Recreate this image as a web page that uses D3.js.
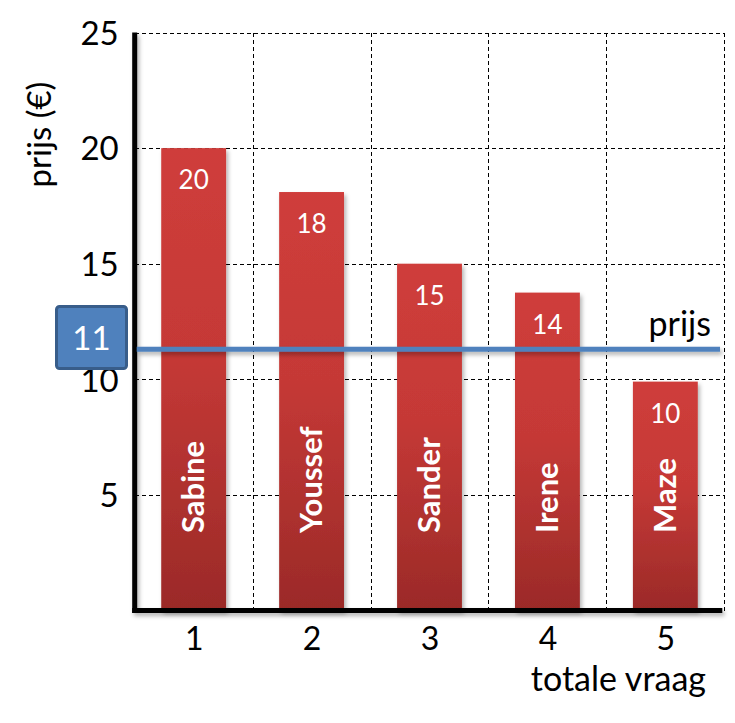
<!DOCTYPE html>
<html><head><meta charset="utf-8">
<script src="https://cdn.jsdelivr.net/npm/d3@7"></script>
<style>
html,body{margin:0;padding:0;background:#fff;}
svg{display:block;font-family:Lato,"Open Sans",sans-serif;}
</style></head>
<body>
<svg id="chart" width="735" height="723"></svg>
<script>
const categories = [1, 2, 3, 4, 5];
const names = ["Sabine", "Youssef", "Sander", "Irene", "Maze"];
const values = [20, 18.1, 15, 13.75, 9.9];
const price = 11.3;
const yTicks = [5, 10, 15, 20, 25];
const xGrid = [1.5, 2.5, 3.5, 4.5, 5.5];
const yTitle = "prijs (€)";
const xTitle = "totale vraag";
const lineLabel = "prijs";

const svg = d3.select("#chart");
const x = d3.scaleLinear().domain([0.5, 5.5]).range([134.7, 724.3]);
const y = d3.scaleLinear().domain([0, 25]).range([610.5, 32.5]);
const fmt = d3.format(".0f");
const band = (x(2) - x(1)) * 0.55;

const defs = svg.append("defs");
const grad = defs.append("linearGradient").attr("id", "barGrad")
  .attr("x1", 0).attr("y1", 0).attr("x2", 0).attr("y2", 1);
grad.append("stop").attr("offset", "0%").attr("stop-color", "#cf3d3b");
grad.append("stop").attr("offset", "45%").attr("stop-color", "#c53936");
grad.append("stop").attr("offset", "100%").attr("stop-color", "#9b2a28");
const sh = defs.append("filter").attr("id", "shadow")
  .attr("filterUnits", "userSpaceOnUse")
  .attr("x", 0).attr("y", 0).attr("width", 735).attr("height", 723);
sh.append("feDropShadow").attr("dx", 2).attr("dy", 3).attr("stdDeviation", 2)
  .attr("flood-color", "#000").attr("flood-opacity", 0.3);

// grid
const grid = svg.append("g").attr("stroke", "#000").attr("stroke-width", 1)
  .attr("stroke-dasharray", "4,3").attr("shape-rendering", "crispEdges");
grid.selectAll("line.h").data(yTicks).join("line").attr("class", "h")
  .attr("x1", x(0.5)).attr("x2", x(5.5))
  .attr("y1", d => Math.round(y(d)) + 0.5).attr("y2", d => Math.round(y(d)) + 0.5);
grid.selectAll("line.v").data(xGrid).join("line").attr("class", "v")
  .attr("x1", d => Math.round(x(d)) + 0.5).attr("x2", d => Math.round(x(d)) + 0.5)
  .attr("y1", y(25)).attr("y2", y(0));

// bars
const bars = svg.append("g");
bars.selectAll("rect").data(values).join("rect")
  .attr("x", (d, i) => x(categories[i]) - band / 2)
  .attr("width", band)
  .attr("y", d => y(d))
  .attr("height", d => y(0) - y(d))
  .attr("fill", "url(#barGrad)")
  .attr("filter", "url(#shadow)");

// value labels
svg.append("g").selectAll("text").data(values).join("text")
  .attr("x", (d, i) => x(categories[i]))
  .attr("y", d => y(d) + 41)
  .attr("text-anchor", "middle")
  .attr("fill", "#fff")
  .attr("font-size", 26)
  .text(d => fmt(d));

// name labels (rotated)
svg.append("g").selectAll("text").data(names).join("text")
  .attr("transform", (d, i) => `translate(${x(categories[i]) + 10.5},533) rotate(-90)`)
  .attr("text-anchor", "start")
  .attr("fill", "#fff")
  .attr("font-weight", "bold")
  .attr("font-size", 31)
  .text(d => d);

// axes lines
const axG = svg.append("g").attr("filter", "url(#shadow)");
axG.append("line").attr("x1", x(0.5)).attr("x2", x(0.5))
  .attr("y1", y(25)).attr("y2", y(0) + 2.5)
  .attr("stroke", "#000").attr("stroke-width", 5);
axG.append("line").attr("x1", x(0.5) - 2.5).attr("x2", x(5.5) - 2)
  .attr("y1", y(0)).attr("y2", y(0))
  .attr("stroke", "#000").attr("stroke-width", 5);

// y tick labels
const yAxis = svg.append("g").attr("transform", `translate(${x(0.5)},0)`)
  .call(d3.axisLeft(y).tickValues(yTicks).tickSize(0).tickPadding(16));
yAxis.select(".domain").remove();
yAxis.selectAll("text").attr("font-family", "Lato,sans-serif")
  .attr("font-size", 33).attr("fill", "#000").attr("dy", "0.36em");

// x tick labels
const xAxis = svg.append("g").attr("transform", `translate(0,${y(0)})`)
  .call(d3.axisBottom(x).tickValues(categories).tickSize(0).tickPadding(0).tickFormat(d3.format("d")));
xAxis.select(".domain").remove();
xAxis.selectAll("text").attr("font-family", "Lato,sans-serif")
  .attr("font-size", 32).attr("fill", "#000").attr("dy", null).attr("y", 39);

// axis titles
svg.append("text").attr("transform", "translate(51,134.5) rotate(-90)")
  .attr("text-anchor", "middle").attr("font-size", 33).attr("fill", "#000").text(yTitle);
svg.append("text").attr("x", 706).attr("y", 690.5)
  .attr("text-anchor", "end").attr("font-size", 34).attr("fill", "#000").text(xTitle);

// price line
svg.append("rect").attr("x", x(0.5) + 2).attr("width", 720 - x(0.5) - 2)
  .attr("y", y(price) - 2.5).attr("height", 5)
  .attr("fill", "#4f81bd").attr("filter", "url(#shadow)");
svg.append("text").attr("x", 711).attr("y", 336)
  .attr("text-anchor", "end").attr("font-size", 34).attr("fill", "#000").text(lineLabel);

// price box
const bx = svg.append("g");
bx.append("rect").attr("x", 56.5).attr("y", 306.5).attr("width", 70).attr("height", 62)
  .attr("rx", 3).attr("fill", "#4f81bd").attr("stroke", "#385d8a").attr("stroke-width", 3);
bx.append("text").attr("x", 91.5).attr("y", 350).attr("text-anchor", "middle")
  .attr("font-size", 33).attr("fill", "#fff").text(fmt(price));
</script>
</body></html>
